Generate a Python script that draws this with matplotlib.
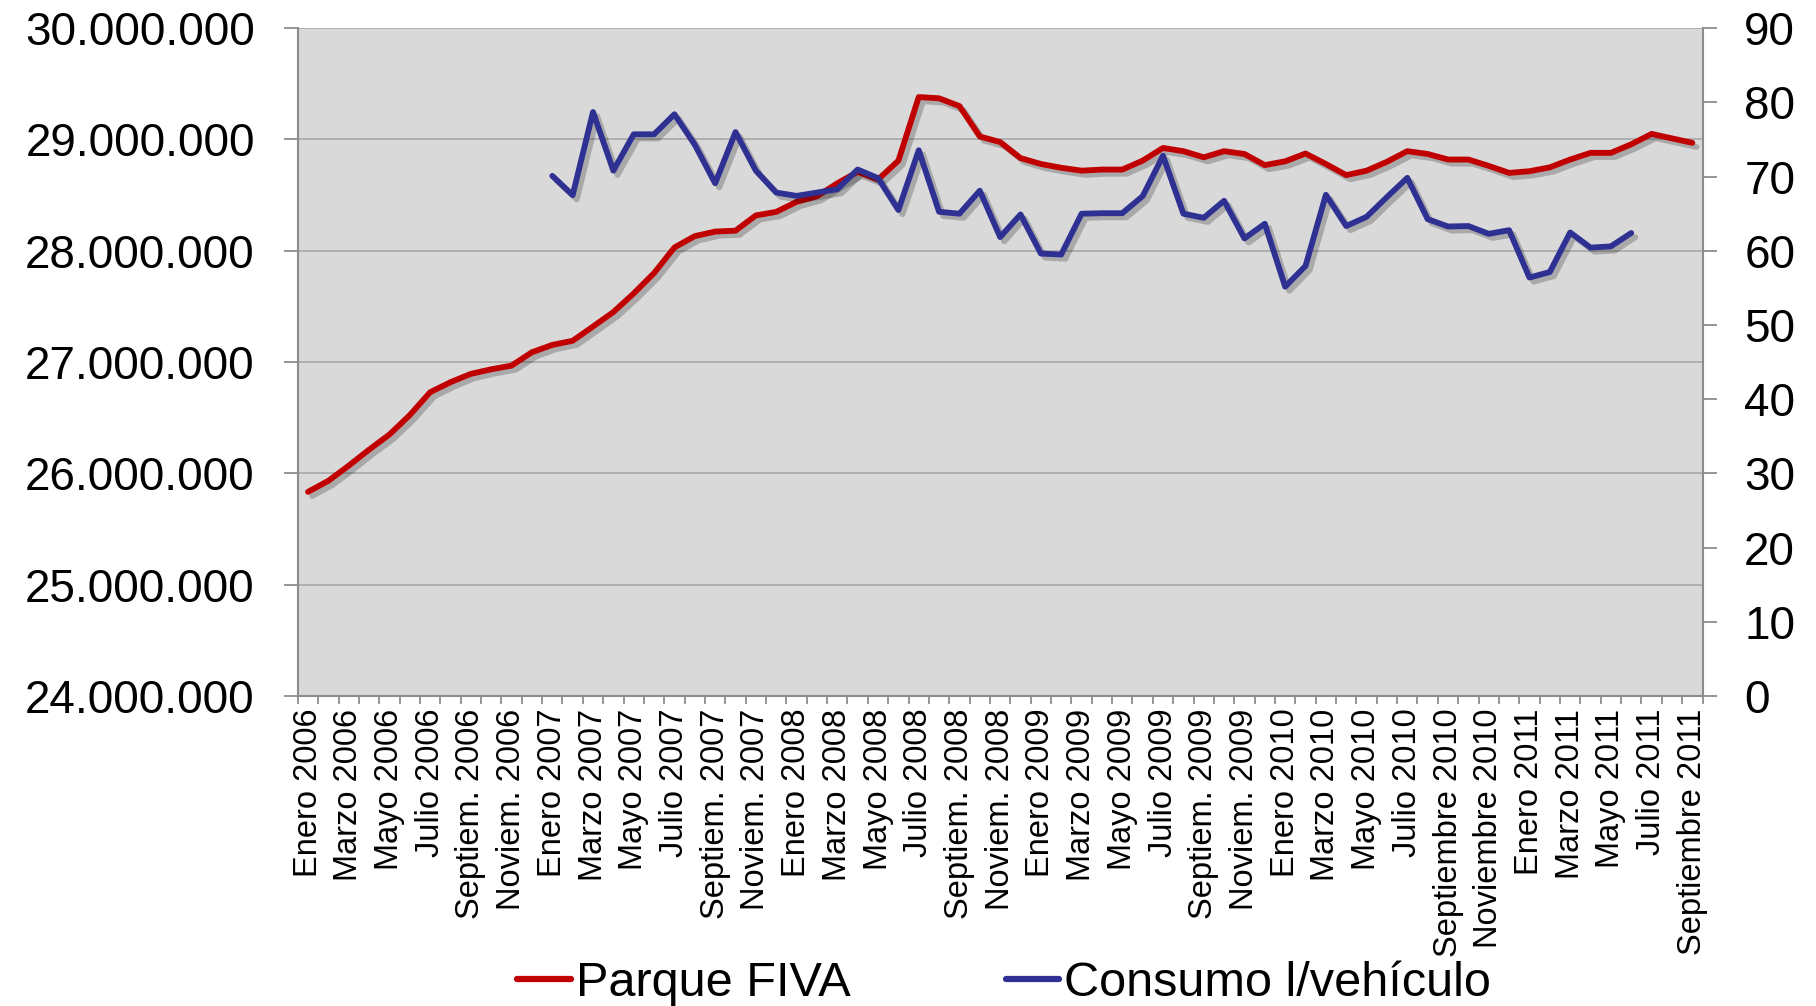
import numpy as np
import matplotlib
matplotlib.use('Agg')
import matplotlib.pyplot as plt
import matplotlib.patheffects as pe
from matplotlib.ticker import FuncFormatter, FixedLocator

plt.rcParams['font.family'] = ['Liberation Sans', 'DejaVu Sans']

# Parque FIVA (millones de vehiculos), enero 2006 - septiembre 2011
parque = [25.835, 25.934, 26.07, 26.214, 26.35, 26.524, 26.73, 26.82, 26.895, 26.936,
          26.969, 27.089, 27.155, 27.192, 27.32, 27.45, 27.617, 27.80, 28.03, 28.132,
          28.173, 28.181, 28.318, 28.35, 28.44, 28.49, 28.606, 28.71, 28.64, 28.81,
          29.381, 29.37, 29.30, 29.027, 28.977, 28.833, 28.78, 28.746, 28.72, 28.73,
          28.73, 28.81, 28.924, 28.895, 28.84, 28.895, 28.87, 28.77, 28.804, 28.874,
          28.78, 28.68, 28.72, 28.80, 28.895, 28.87, 28.82, 28.82, 28.763, 28.70,
          28.715, 28.75, 28.82, 28.88, 28.88, 28.957, 29.05, 29.01, 28.97]

# Consumo l/vehiculo, enero 2007 - junio 2011
consumo = [70.1, 67.5, 78.7, 70.8, 75.7, 75.7, 78.4, 74.3, 69.1, 76.0,
           70.8, 67.85, 67.4, 67.85, 68.3, 70.95, 69.8, 65.5, 73.55, 65.26,
           65.0, 68.1, 61.85, 64.9, 59.63, 59.5, 65.0, 65.07, 65.07, 67.36,
           72.8, 65.0, 64.45, 66.74, 61.67, 63.65, 55.17, 57.96, 67.55, 63.34,
           64.58, 67.24, 69.83, 64.27, 63.28, 63.34, 62.29, 62.78, 56.4, 57.15,
           62.47, 60.43, 60.6, 62.4]
consumo_start = 12

labels = ['Enero 2006', 'Marzo 2006', 'Mayo 2006', 'Julio 2006', 'Septiem. 2006', 'Noviem. 2006',
          'Enero 2007', 'Marzo 2007', 'Mayo 2007', 'Julio 2007', 'Septiem. 2007', 'Noviem. 2007',
          'Enero 2008', 'Marzo 2008', 'Mayo 2008', 'Julio 2008', 'Septiem. 2008', 'Noviem. 2008',
          'Enero 2009', 'Marzo 2009', 'Mayo 2009', 'Julio 2009', 'Septiem. 2009', 'Noviem. 2009',
          'Enero 2010', 'Marzo 2010', 'Mayo 2010', 'Julio 2010', 'Septiembre 2010', 'Noviembre 2010',
          'Enero 2011', 'Marzo 2011', 'Mayo 2011', 'Julio 2011', 'Septiembre 2011']

n = len(parque)
x = np.arange(n)
y1 = np.array(parque) * 1e6
y2 = np.full(n, np.nan)
y2[consumo_start:consumo_start + len(consumo)] = consumo

fig = plt.figure(figsize=(18.16, 10.06), dpi=100)
ax = fig.add_axes([0.164, 0.308, 0.7735, 0.664])
ax.set_facecolor('#D9D9D9')
ax2 = ax.twinx()

shadow = [pe.SimpleLineShadow(offset=(3, -3), shadow_color='k', alpha=0.22), pe.Normal()]
l1, = ax.plot(x, y1, color='#C00000', lw=4.2, solid_capstyle='round',
              solid_joinstyle='round', path_effects=shadow, label='Parque FIVA')
l2, = ax2.plot(x, y2, color='#2E3192', lw=4.2, solid_capstyle='round',
               solid_joinstyle='round', path_effects=shadow, label='Consumo l/vehículo')

ax.set_xlim(-0.5, n - 0.5)
ax.set_ylim(24e6, 30e6)
ax2.set_ylim(0, 90)
ax.set_yticks(np.arange(24e6, 30.1e6, 1e6))
ax.yaxis.set_major_formatter(FuncFormatter(lambda v, p: '{:,}'.format(int(round(v))).replace(',', '.')))
ax2.set_yticks(np.arange(0, 91, 10))

ax.grid(axis='y', color='#ABABAB', lw=1.3)
ax.set_axisbelow(True)

ax.set_xticks(x[::2])
ax.set_xticklabels(labels, rotation=90, fontsize=23.5, va='top', ha='center')
ax.xaxis.set_minor_locator(FixedLocator(np.arange(-0.5, n, 1)))
ax.tick_params(axis='x', which='major', length=0, pad=9)
ax.tick_params(axis='x', which='minor', length=6, width=1.3, color='#8C8C8C')
ax.tick_params(axis='y', which='major', labelsize=33, length=10, width=1.3, color='#8C8C8C', pad=21)
ax2.tick_params(axis='y', labelsize=33, length=10, width=1.3, color='#8C8C8C', pad=20)

for s in ['top', 'right']:
    ax.spines[s].set_visible(False)
for s in ['top', 'left', 'bottom']:
    ax2.spines[s].set_visible(False)
for sp in [ax.spines['left'], ax.spines['bottom'], ax2.spines['right']]:
    sp.set_color('#8C8C8C')
    sp.set_linewidth(1.5)

leg = fig.legend(handles=[l1, l2], loc='center', bbox_to_anchor=(0.553, 0.022), ncol=2,
                 frameon=False, fontsize=35, handlelength=1.1, handletextpad=0.1,
                 columnspacing=3.2)
for h in leg.legend_handles:
    h.set_path_effects([])
    h.set_linewidth(4.5)

fig.savefig('out.png', dpi=100)
